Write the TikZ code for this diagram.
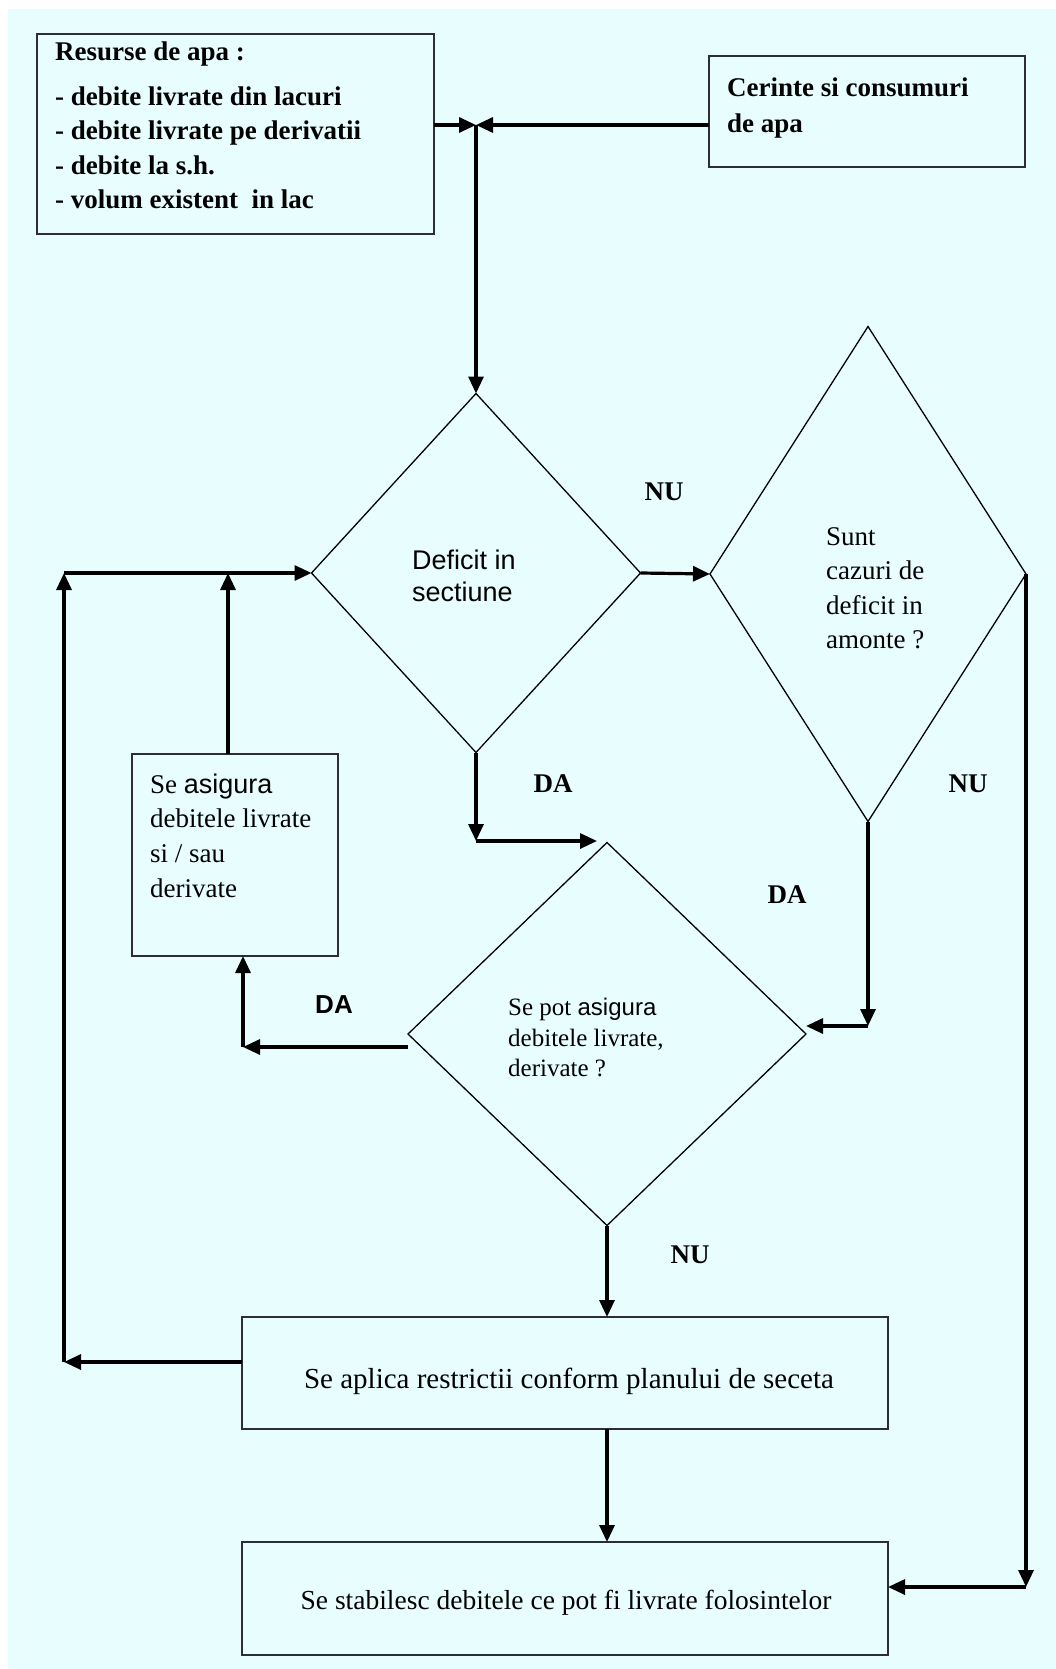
\documentclass[tikz,border=0pt]{standalone}
\usepackage{fontspec}
\setmainfont{Liberation Serif}
\setsansfont{Liberation Sans}
\usetikzlibrary{shapes.geometric,arrows.meta}
\definecolor{bgc}{RGB}{232,254,254}
\definecolor{boxline}{RGB}{45,45,50}
\begin{document}
\begin{tikzpicture}[x=1pt,y=-1pt,
  box/.style={draw=boxline, line width=2pt, inner sep=0pt, outer sep=0pt},
  dia/.style={shape=diamond, draw=black, line width=1.3pt, inner sep=0pt, outer sep=0pt},
  conn/.style={line width=3.2pt, -{Triangle[length=17pt,width=15pt]}},
  tx/.style={inner sep=0pt, align=left, anchor=north west},
  lbl/.style={inner sep=0pt, font=\fontsize{27}{30}\selectfont\bfseries}
]
\useasboundingbox (0,0) rectangle (1056,1669);
\fill[white] (0,0) rectangle (1056,1669);
\fill[bgc] (8,9) rectangle (1056,1669);

% boxes
\node[box, minimum width=397pt, minimum height=200pt] (res) at (235.5,134) {};
\node[box, minimum width=316pt, minimum height=111pt] (cer) at (866.5,111.5) {};
\node[box, minimum width=206pt, minimum height=202pt] (asig) at (235,855) {};
\node[box, minimum width=646pt, minimum height=112pt] (apl) at (565,1373) {};
\node[box, minimum width=646pt, minimum height=113pt] (stab) at (565,1598.5) {};

% diamonds
\node[dia, minimum width=329pt, minimum height=359pt] (d1) at (476,573) {};
\node[dia, minimum width=316pt, minimum height=495pt] (d2) at (868,574) {};
\node[dia, minimum width=398pt, minimum height=383pt] (d3) at (607,1034) {};

% texts
\node[tx, font=\fontsize{27}{34.5}\selectfont\bfseries] (rest) at (55,42)
  {Resurse de apa :\\[10pt]- debite livrate din lacuri\\- debite livrate pe derivatii\\- debite la s.h.\\- volum existent\ \ in lac};
\node[tx, font=\fontsize{27}{36}\selectfont\bfseries] (cert) at (727,77.5)
  {Cerinte si consumuri\\de apa};
\node[tx, font=\fontsize{27}{32}\selectfont\sffamily] (d1t) at (412,549.5)
  {Deficit in\\sectiune};
\node[tx, font=\fontsize{27}{34.3}\selectfont] (d2t) at (826,527.5)
  {Sunt\\cazuri de\\deficit in\\amonte ?};
\node[tx, font=\fontsize{27}{34.7}\selectfont] (asigt) at (150,773.5)
  {Se {\sffamily asigura}\\debitele livrate\\si / sau\\derivate};
\node[tx, font=\fontsize{25}{30.5}\selectfont] (d3t) at (508,998)
  {Se pot {\sffamily\fontsize{24}{30.5}\selectfont asigura}\\debitele livrate,\\derivate ?};
\node[inner sep=0pt, anchor=base, font=\fontsize{29}{32}\selectfont] (aplt) at (569,1388)
  {Se aplica restrictii conform planului de seceta};
\node[inner sep=0pt, anchor=base, font=\fontsize{27.5}{32}\selectfont] (stabt) at (566,1609)
  {Se stabilesc debitele ce pot fi livrate folosintelor};

% labels
\node[lbl] (nu1) at (664,492) {NU};
\node[lbl] (da1) at (553,784) {DA};
\node[lbl] (nu2) at (968,784) {NU};
\node[lbl] (da2) at (787,895) {DA};
\node[lbl, font=\fontsize{26}{30}\selectfont\sffamily\bfseries] (da3) at (334,1005) {DA};
\node[lbl] (nu3) at (690,1255) {NU};

% coordinates
\coordinate (j) at (476,125);
\coordinate (c1) at (476,841);
\coordinate (c2) at (597,841);
\coordinate (c3) at (868,1026);
\coordinate (c4) at (1026,1587);
\coordinate (c5) at (243,1047);
\coordinate (c6) at (228,573);
\coordinate (c7) at (64,1362);
\coordinate (c8) at (64,573);

% connectors
\draw[conn] (res.east |- j) -- (j);
\draw[conn] (cer.west |- j) -- (j);
\draw[conn] (j) -- (d1.north);
\draw[conn] (d1.east) -- (d2.west);
\draw[conn] (d1.south) -- (c1);
\draw[conn] (c1) -- (c2);
\draw[conn] (d2.south) -- (c3);
\draw[conn] (c3) -- (d3.east |- c3);
\draw[conn] (d2.east) -- (c4);
\draw[conn] (c4) -- (stab.east |- c4);
\draw[conn] (d3.west |- c5) -- (c5);
\draw[conn] (c5) -- (asig.south -| c5);
\draw[conn] (asig.north -| c6) -- (c6);
\draw[conn] (apl.west |- c7) -- (c7);
\draw[conn] (c7) -- (c8);
\draw[conn] (c8) -- (d1.west);
\draw[conn] (d3.south) -- (apl.north -| d3.south);
\draw[conn] (apl.south -| d3.south) -- (stab.north -| d3.south);
\end{tikzpicture}
\end{document}
